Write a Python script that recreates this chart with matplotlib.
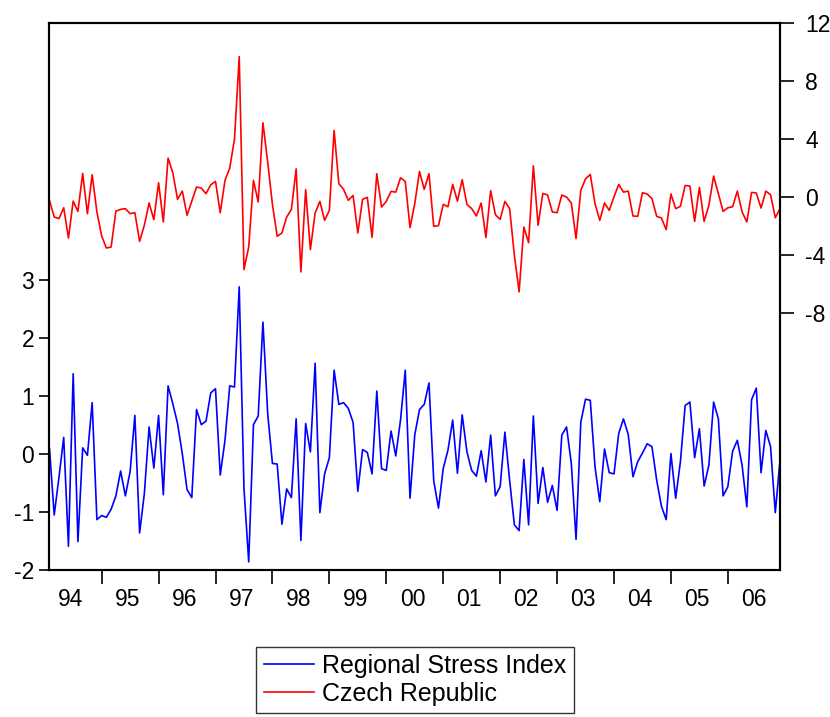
import numpy as np
import matplotlib
matplotlib.use('Agg')
import matplotlib.pyplot as plt
from matplotlib.ticker import FixedLocator, NullFormatter, FixedFormatter

plt.rcParams['font.family'] = ['Liberation Sans', 'DejaVu Sans']

# monthly observations, 1994M02 - 2006M12
start_year, start_month = 1994, 2

regional_stress = [
    0.10, -1.05, -0.40, 0.29, -1.59, 1.39, -1.51, 0.11, -0.02, 0.89, -1.13,
    -1.06, -1.09, -0.95, -0.72, -0.29, -0.72, -0.30, 0.67, -1.36, -0.68, 0.47, -0.24,
    0.67, -0.70, 1.18, 0.87, 0.53, 0.01, -0.61, -0.75, 0.77, 0.51, 0.57, 1.06,
    1.13, -0.36, 0.24, 1.18, 1.16, 2.89, -0.59, -1.86, 0.51, 0.66, 2.28, 0.70,
    -0.16, -0.17, -1.21, -0.60, -0.75, 0.61, -1.49, 0.53, 0.04, 1.57, -1.01, -0.34,
    -0.06, 1.45, 0.86, 0.89, 0.79, 0.55, -0.64, 0.08, 0.03, -0.34, 1.09, -0.25,
    -0.28, 0.40, -0.03, 0.59, 1.45, -0.76, 0.33, 0.77, 0.86, 1.23, -0.46, -0.93,
    -0.25, 0.07, 0.59, -0.33, 0.68, 0.04, -0.28, -0.38, 0.06, -0.48, 0.33, -0.72,
    -0.56, 0.38, -0.45, -1.22, -1.32, -0.09, -1.22, 0.66, -0.85, -0.23, -0.83, -0.54,
    -0.97, 0.33, 0.47, -0.16, -1.47, 0.55, 0.95, 0.93, -0.22, -0.82, 0.09, -0.32,
    -0.34, 0.36, 0.61, 0.34, -0.39, -0.13, 0.02, 0.18, 0.13, -0.45, -0.90, -1.13,
    0.01, -0.76, -0.13, 0.84, 0.90, -0.06, 0.44, -0.55, -0.19, 0.90, 0.61, -0.72,
    -0.56, 0.05, 0.24, -0.19, -0.91, 0.94, 1.14, -0.32, 0.41, 0.13, -1.01, -0.10,
]

czech = [
    -0.23, -1.38, -1.49, -0.74, -2.83, -0.28, -0.99, 1.63, -1.15, 1.54, -1.03,
    -2.69, -3.52, -3.45, -0.97, -0.85, -0.80, -1.15, -1.08, -3.06, -1.95, -0.41, -1.56,
    0.99, -1.72, 2.69, 1.68, -0.16, 0.41, -1.26, -0.28, 0.69, 0.62, 0.23, 0.85,
    1.08, -1.08, 1.15, 2.00, 4.00, 9.70, -5.01, -3.45, 1.15, -0.34, 5.13, 2.41,
    -0.51, -2.71, -2.48, -1.38, -0.85, 1.95, -5.17, 0.51, -3.63, -1.10, -0.30, -1.61,
    -0.92, 4.60, 0.92, 0.53, -0.23, 0.11, -2.48, -0.16, -0.02, -2.78, 1.61, -0.69,
    -0.30, 0.39, 0.34, 1.33, 1.08, -2.11, -0.46, 1.77, 0.53, 1.61, -2.02, -1.98,
    -0.51, -0.67, 0.87, -0.28, 1.20, -0.51, -0.80, -1.31, -0.41, -2.80, 0.44, -1.22,
    -1.54, -0.30, -0.80, -4.02, -6.55, -2.07, -3.15, 2.16, -1.95, 0.25, 0.14, -1.03,
    -1.08, 0.14, 0.00, -0.41, -2.87, 0.46, 1.26, 1.56, -0.46, -1.61, -0.41, -0.92,
    0.02, 0.87, 0.34, 0.41, -1.31, -1.33, 0.30, 0.21, -0.11, -1.33, -1.45, -2.25,
    0.21, -0.80, -0.64, 0.80, 0.76, -1.68, 0.67, -1.68, -0.57, 1.45, 0.23, -0.99,
    -0.74, -0.67, 0.41, -1.03, -1.72, 0.32, 0.28, -0.76, 0.41, 0.16, -1.43, -0.80,
]

year_labels = ['94', '95', '96', '97', '98', '99', '00', '01', '02', '03', '04', '05', '06']
left_ticks = [-2, -1, 0, 1, 2, 3]
right_ticks = [-8, -4, 0, 4, 8, 12]

x = np.arange(len(regional_stress))
# index of each January, and the middle of each calendar year
jan_idx = [12 * k + (13 - start_month) for k in range(len(year_labels) - 1)]
mid_idx = [12 * k - (start_month - 1) + 5.5 for k in range(len(year_labels))]

fig = plt.figure(figsize=(8.3, 7.17), dpi=100)
ax = fig.add_axes([0.0596, 0.205, 0.8802, 0.7625])
ax2 = ax.twinx()

ax.plot(x, regional_stress, color='#0000FF', lw=1.2, label='Regional Stress Index')
ax2.plot(x, czech, color='#FF0000', lw=1.2, label='Czech Republic')

ax.set_xlim(0, len(x) - 1)
ax.set_ylim(-2, 7.44)
ax2.set_ylim(-25.76, 12.0)

ax.xaxis.set_major_locator(FixedLocator(jan_idx))
ax.xaxis.set_major_formatter(NullFormatter())
ax.xaxis.set_minor_locator(FixedLocator(mid_idx))
ax.xaxis.set_minor_formatter(FixedFormatter(year_labels))
ax.tick_params(axis='x', which='major', direction='out', length=10, width=1.2)
ax.tick_params(axis='x', which='minor', length=0, pad=13, labelsize=16.5)

ax.set_yticks(left_ticks)
ax.set_yticklabels([str(t) for t in left_ticks])
ax.tick_params(axis='y', direction='out', length=7, width=1.2, labelsize=16.5, pad=4)
ax2.set_yticks(right_ticks)
ax2.set_yticklabels([str(t) for t in right_ticks])
ax2.tick_params(axis='y', direction='out', length=10, width=1.2, labelsize=16.5, pad=8)

for a in (ax, ax2):
    for s in a.spines.values():
        s.set_linewidth(1.5)
        s.set_color('black')

h1, l1 = ax.get_legend_handles_labels()
h2, l2 = ax2.get_legend_handles_labels()
leg = fig.legend(h1 + h2, l1 + l2, loc='upper center', bbox_to_anchor=(0.5, 0.098),
                 fontsize=18, frameon=True, fancybox=False, handlelength=2.0,
                 handletextpad=0.35, borderpad=0.3, labelspacing=0.15, borderaxespad=0)
leg.get_frame().set_edgecolor('black')
leg.get_frame().set_linewidth(1.0)

fig.savefig('out.png', dpi=100)
